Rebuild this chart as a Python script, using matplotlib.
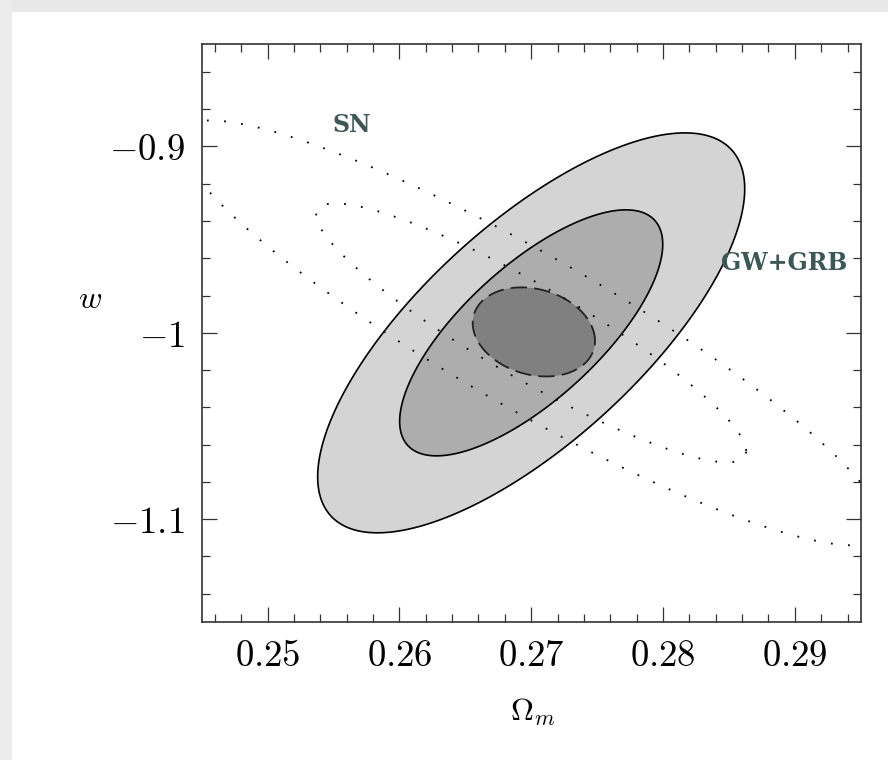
import numpy as np
import matplotlib
matplotlib.use("Agg")
import matplotlib.pyplot as plt
from matplotlib.patches import Rectangle

plt.rcParams['mathtext.fontset'] = 'cm'
plt.rcParams['font.family'] = ['DejaVu Serif']

# ---- data ----
x_ticks = [0.25, 0.26, 0.27, 0.28, 0.29]
x_ticklabels = ['0.25', '0.26', '0.27', '0.28', '0.29']
y_ticks = [-0.9, -1.0, -1.1]
y_ticklabels = ['-0.9', '-1', '-1.1']
xlim = (0.245, 0.295)
ylim = (-1.155, -0.845)

# contours: centre x, centre y, half-extent in x, half-extent in y, correlation
gw_names = ['GW+GRB 2sigma', 'GW+GRB 1sigma']
gw_cx = [0.2700, 0.2700]
gw_cy = [-1.000, -1.000]
gw_hx = [0.0162, 0.00998]
gw_hy = [0.1073, 0.0660]
gw_rho = [0.72, 0.72]
gw_colors = ['#d4d4d4', '#adadad']

sn_cx = [0.2700, 0.2700]
sn_cy = [-1.000, -1.000]
sn_hx = [0.02675, 0.01631]
sn_hy = [0.1140, 0.0695]
sn_rho = [-0.911, -0.911]

comb_cx = 0.2702
comb_cy = -0.9995
comb_hx = 0.00464
comb_hy = 0.0239
comb_rho = -0.2
comb_color = '#808080'

label_sn = 'SN'
label_gw = 'GW+GRB'
sn_text_pos = (0.2564, -0.8885)
gw_text_pos = (0.2892, -0.9625)


def ellipse(cx, cy, hx, hy, rho, n=600):
    t = np.linspace(0, 2 * np.pi, n)
    x = cx + hx * np.cos(t)
    y = cy + hy * (rho * np.cos(t) + np.sqrt(1 - rho ** 2) * np.sin(t))
    return x, y


fig = plt.figure(figsize=(8.88, 7.6), dpi=100)
fig.patch.set_facecolor('white')
# light screenshot border
fig.patches.append(Rectangle((0, 1 - 12 / 760), 1, 12 / 760, transform=fig.transFigure,
                             facecolor='#e8e8e8', edgecolor='none', zorder=0))
fig.patches.append(Rectangle((0, 0), 12 / 888, 1, transform=fig.transFigure,
                             facecolor='#ececec', edgecolor='none', zorder=0))

ax = fig.add_axes([201.7 / 888, 1 - 621.7 / 760, 659 / 888, 577.7 / 760])

for cx, cy, hx, hy, r, c in zip(gw_cx, gw_cy, gw_hx, gw_hy, gw_rho, gw_colors):
    x, y = ellipse(cx, cy, hx, hy, r)
    ax.fill(x, y, facecolor=c, edgecolor='black', linewidth=1.2, zorder=2)

x, y = ellipse(comb_cx, comb_cy, comb_hx, comb_hy, comb_rho)
ax.fill(x, y, facecolor=comb_color, edgecolor='none', zorder=3)
ax.plot(x, y, color='#222222', linewidth=1.3, linestyle=(0, (9, 4)), zorder=4)

for cx, cy, hx, hy, r in zip(sn_cx, sn_cy, sn_hx, sn_hy, sn_rho):
    x, y = ellipse(cx, cy, hx, hy, r, n=2000)
    ax.plot(x, y, color='black', linewidth=1.3, linestyle=(0, (1, 8.5)), zorder=5)

txt_kw = dict(fontsize=17, fontweight='bold', color='#3d5757', ha='center', va='center',
              family='DejaVu Serif', zorder=6)
ax.text(*sn_text_pos, label_sn, **txt_kw)
ax.text(*gw_text_pos, label_gw, **txt_kw)

ax.set_xlim(*xlim)
ax.set_ylim(*ylim)
ax.set_xticks(x_ticks)
ax.set_xticklabels(['$' + s + '$' for s in x_ticklabels])
ax.set_yticks(y_ticks)
ax.set_yticklabels(['$' + s + '$' for s in y_ticklabels])
ax.set_xticks(np.arange(0.246, 0.2951, 0.002), minor=True)
ax.set_yticks(np.arange(-1.14, -0.8449, 0.02), minor=True)
ax.tick_params(which='both', direction='in', top=True, right=True, labelsize=26.5,
               color='#333333')
ax.tick_params(which='major', length=11, width=0.9, pad=12)
ax.tick_params(which='minor', length=5.5, width=0.9)
for s in ax.spines.values():
    s.set_linewidth(1.2)
    s.set_color('#333333')

ax.set_xlabel(r'$\Omega_m$', fontsize=23)
ax.xaxis.label.set_va('center')
ax.xaxis.set_label_coords(0.503, -0.156)
ax.set_ylabel(r'$w$', fontsize=23, rotation=0)
ax.yaxis.label.set_va('center')
ax.yaxis.label.set_ha('center')
ax.yaxis.set_label_coords(-0.1695, 0.557)

fig.savefig('out.png', dpi=100)
